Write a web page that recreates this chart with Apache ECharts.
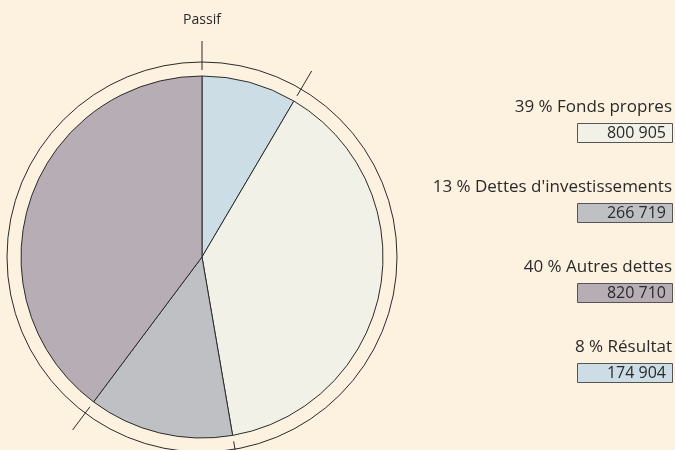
<!DOCTYPE html>
<html>
<head>
<meta charset="utf-8">
<script src="https://cdn.jsdelivr.net/npm/echarts@6/dist/echarts.min.js"></script>
<style>
  html, body { margin: 0; padding: 0; background: #fdf1e0; }
  #main { width: 675px; height: 450px; }
</style>
</head>
<body>
<div id="main"></div>
<script>
// postes du passif, dans l'ordre du camembert (depuis midi, sens horaire)
var names = ['Résultat', 'Fonds propres', "Dettes d'investissements", 'Autres dettes'];
var values = [174904, 800905, 266719, 820710];
var colors = ['#cddde5', '#f1f1e8', '#bfc0c4', '#b7adb5'];
// ordre de la légende à droite
var legendOrder = [1, 2, 3, 0];
var title = 'Passif';

var cx = 202, cy = 257, R = 181;
var font = '"Open Sans", sans-serif';

var total = values.reduce(function (a, b) { return a + b; }, 0);

function fmt(v) {
  return String(v).replace(/\B(?=(\d{3})+(?!\d))/g, ' ');
}

var graphic = [];

// petits traits aux limites des parts
var cum = 0;
for (var i = 0; i < values.length; i++) {
  var a = Math.PI / 2 - cum / total * Math.PI * 2;
  graphic.push({
    type: 'line', silent: true, z: 10,
    shape: {
      x1: cx + 187 * Math.cos(a), y1: cy - 187 * Math.sin(a),
      x2: cx + 216 * Math.cos(a), y2: cy - 216 * Math.sin(a)
    },
    style: { stroke: '#2b2b2b', lineWidth: 1 }
  });
  cum += values[i];
}

graphic.push({
  type: 'text', silent: true, x: cx, y: 20,
  style: { text: title, fill: '#2a2a2a', font: '14px ' + font, textAlign: 'center', textVerticalAlign: 'middle' }
});

// légende : texte + case avec la valeur
legendOrder.forEach(function (k, j) {
  var y0 = 99 + j * 80;
  var pct = Math.round(values[k] / total * 100);
  graphic.push({
    type: 'text', silent: true,
    x: 672, y: y0,
    style: { text: pct + ' % ' + names[k], fill: '#2a2a2a', font: '17px ' + font, textAlign: 'right', textVerticalAlign: 'top' }
  });
  graphic.push({
    type: 'rect', silent: true,
    shape: { x: 577.5, y: y0 + 24.5, width: 95, height: 19 },
    style: { fill: colors[k], stroke: '#555', lineWidth: 1 }
  });
  graphic.push({
    type: 'text', silent: true,
    x: 666, y: y0 + 34.5,
    style: { text: fmt(values[k]), fill: '#2a2a2a', font: '16px ' + font, textAlign: 'right', textVerticalAlign: 'middle' }
  });
});

var chart = echarts.init(document.getElementById('main'));
chart.setOption({
  backgroundColor: '#fdf1e0',
  animation: false,
  graphic: graphic,
  series: [
    {
      type: 'pie',
      silent: true,
      center: [cx, cy],
      radius: 195,
      label: { show: false },
      labelLine: { show: false },
      itemStyle: { color: 'rgba(0,0,0,0)', borderColor: '#2b2b2b', borderWidth: 1 },
      data: [{ value: 1, name: 'anneau' }]
    },
    {
      type: 'pie',
      silent: true,
      center: [cx, cy],
      radius: R,
      startAngle: 90,
      clockwise: true,
      label: { show: false },
      labelLine: { show: false },
      itemStyle: { borderColor: '#2b2b2b', borderWidth: 1 },
      data: names.map(function (n, i) {
        return { name: n, value: values[i], itemStyle: { color: colors[i] } };
      })
    }
  ]
});
</script>
</body>
</html>
